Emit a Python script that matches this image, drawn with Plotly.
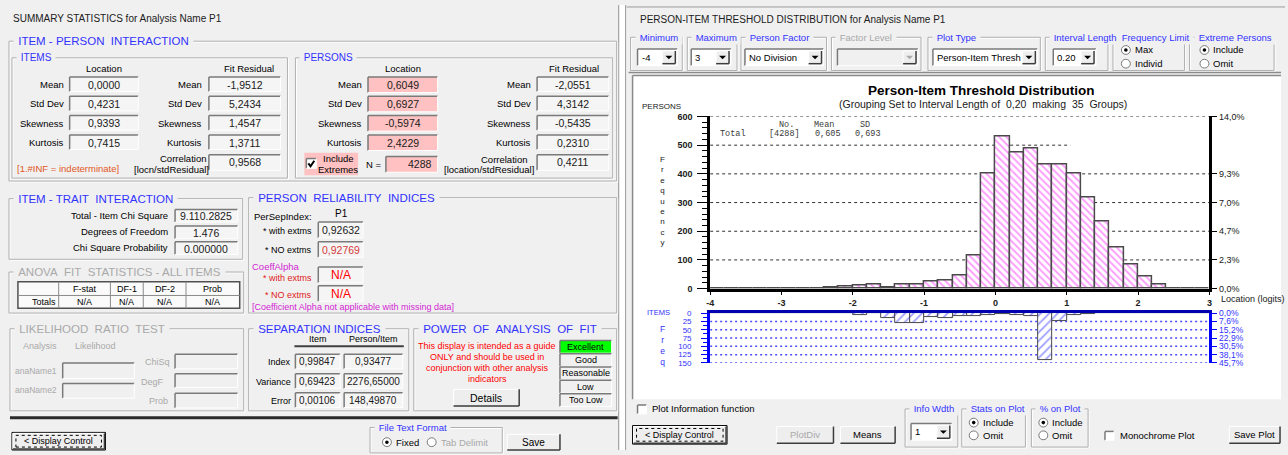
import plotly.graph_objects as go

W, H = 1288, 455
FONT = "Liberation Sans"
MONO = "Liberation Mono"
BG = "#f0f0f0"
BLUE = "#3333ff"
DIM = "#a9a9a9"
PINK = "#ffc1c1"
RED = "#ff0000"
MAG = "#d21fd2"

# ---------------- data ----------------
bin_centres = [-3.9, -3.7, -3.5, -3.3, -3.1, -2.9, -2.7, -2.5, -2.3, -2.1,
               -1.9, -1.7, -1.5, -1.3, -1.1, -0.9, -0.7, -0.5, -0.3, -0.1,
               0.1, 0.3, 0.5, 0.7, 0.9, 1.1, 1.3, 1.5, 1.7, 1.9,
               2.1, 2.3, 2.5, 2.7, 2.9]
person_freq = [0, 0, 0, 0, 0, 0, 0, 0, 3, 8,
               11, 14, 3, 15, 15, 24, 27, 45, 116, 400,
               531, 475, 489, 434, 432, 400, 316, 233, 144, 85,
               42, 15, 0, 0, 0]
item_freq = [0, 0, 0, 0, 0, 0, 0, 1, 1, 1,
             5, 0, 14, 30, 30, 12, 15, 9, 9, 6,
             3, 6, 10, 142, 23, 7, 2, 1, 0, 0,
             0, 0, 0, 0, 0]
bin_width = 0.2
x_ticks = [-4, -3, -2, -1, 0, 1, 2, 3]
person_ticks = [0, 100, 200, 300, 400, 500, 600]
person_grid_full = [100, 200, 300, 400, 600]
person_grid_part = 500
person_grid_part_end = 1.05
person_pct_ticks = [0, 100, 200, 300, 400, 600]
person_pct_labels = ["0,0%", "2,3%", "4,7%", "7,0%", "9,3%", "14,0%"]
item_ticks = [0, 25, 50, 75, 100, 125, 150]
item_pct_labels = ["0,0%", "7,6%", "15,2%", "22,9%", "30,5%", "38,1%", "45,7%"]

stat_names = ["Mean", "Std Dev", "Skewness", "Kurtosis"]
items_location = ["0,0000", "0,4231", "0,9393", "0,7415"]
items_fit = ["-1,9512", "5,2434", "1,4547", "1,3711"]
persons_location = ["0,6049", "0,6927", "-0,5974", "2,4229"]
persons_fit = ["-2,0551", "4,3142", "-0,5435", "0,2310"]
items_corr = "0,9568"
persons_corr = "0,4211"
persons_n = "4288"
trait_labels = ["Total - Item Chi Square", "Degrees of Freedom", "Chi Square Probability"]
trait_values = ["9.110.2825", "1.476", "0.000000"]
anova_headers = ["F-stat", "DF-1", "DF-2", "Prob"]
sep_rows = ["Index", "Variance", "Error"]
sep_item = ["0,99847", "0,69423", "0,00106"]
sep_person = ["0,93477", "2276,65000", "148,49870"]
power_levels = ["Excellent", "Good", "Reasonable", "Low", "Too Low"]

shapes, annos = [], []


def X(x):
    return x / W


def Y(y):
    return 1 - y / H


def rect(x0, y0, x1, y1, fill=None, line=None, lw=1, layer="above", dash=None):
    ln = dict(width=lw if line else 0, color=line or "rgba(0,0,0,0)")
    if dash:
        ln["dash"] = dash
    shapes.append(dict(type="rect", xref="paper", yref="paper", x0=X(x0), y0=Y(y1),
                       x1=X(x1), y1=Y(y0), fillcolor=fill or "rgba(0,0,0,0)",
                       line=ln, layer=layer))


def seg(x0, y0, x1, y1, color, lw=1, dash=None, layer="above"):
    ln = dict(color=color, width=lw)
    if dash:
        ln["dash"] = dash
    shapes.append(dict(type="line", xref="paper", yref="paper", x0=X(x0), y0=Y(y0),
                       x1=X(x1), y1=Y(y1), line=ln, layer=layer))


def txt(x, y, s, size=9.5, color="#000000", anchor="left", family=FONT, bg=None):
    a = dict(xref="paper", yref="paper", x=X(x), y=Y(y), text=s, showarrow=False,
             xanchor=anchor, yanchor="middle",
             font=dict(family=family, size=size, color=color), borderpad=0)
    if bg:
        a["bgcolor"] = bg
        a["borderpad"] = 1
    annos.append(a)


def sunken(x0, y0, x1, y1, fill="#f5f5f5"):
    rect(x0, y0, x1, y1, fill=fill)
    seg(x0, y0, x1, y0, "#7a7a7a", 1.5)
    seg(x0, y0, x0, y1, "#7a7a7a", 1.5)
    seg(x0, y1, x1, y1, "#ffffff", 1)
    seg(x1, y0, x1, y1, "#ffffff", 1)


def raised(x0, y0, x1, y1, fill="#eeeeee"):
    rect(x0, y0, x1, y1, fill=fill)
    seg(x0, y0, x1, y0, "#ffffff", 1)
    seg(x0, y0, x0, y1, "#ffffff", 1)
    seg(x0, y1, x1, y1, "#3c3c3c", 1.5)
    seg(x1, y0, x1, y1, "#3c3c3c", 1.5)


def frame(x0, y0, x1, y1, title, color=BLUE, size=11.5):
    rect(x0 + 1, y0 + 1, x1 + 1, y1 + 1, line="#ffffff", lw=1)
    rect(x0, y0, x1, y1, line="#b0b0b0", lw=1)
    txt(x0 + 4, y0, "\u00a0" + title + "\u00a0", size, color, bg=BG)


def button(x0, y0, x1, y1, label, color="#000000", size=10, focus=False):
    if focus:
        rect(x0 - 1, y0 - 1, x1 + 1, y1 + 1, line="#000000", lw=1)
    raised(x0, y0, x1, y1)
    if focus:
        rect(x0 + 3, y0 + 2, x1 - 3, y1 - 2, line="#000000", lw=1, dash="dot")
    txt((x0 + x1) / 2, (y0 + y1) / 2, label, size, color, anchor="center")


def radio(cx, cy, checked, label, enabled=True, size=9.5):
    r = 4.5
    shapes.append(dict(type="circle", xref="paper", yref="paper", x0=X(cx - r), x1=X(cx + r),
                       y0=Y(cy + r), y1=Y(cy - r), fillcolor="#ffffff",
                       line=dict(color="#7a7a7a", width=1)))
    if checked:
        r2 = 1.8
        shapes.append(dict(type="circle", xref="paper", yref="paper", x0=X(cx - r2), x1=X(cx + r2),
                           y0=Y(cy + r2), y1=Y(cy - r2),
                           fillcolor="#000000" if enabled else DIM, line=dict(width=0)))
    txt(cx + 8, cy, label, size, "#000000" if enabled else DIM)


def checkbox(x0, y0, checked, s=10):
    sunken(x0, y0, x0 + s, y0 + s, fill="#ffffff")
    if checked:
        p = "M {},{} L {},{} L {},{}".format(X(x0 + 2), Y(y0 + 5), X(x0 + 4.2), Y(y0 + 8),
                                             X(x0 + 8), Y(y0 + 2.2))
        shapes.append(dict(type="path", xref="paper", yref="paper", path=p,
                           line=dict(color="#000000", width=2)))


def dropdown(x0, y0, x1, y1, val, enabled=True):
    sunken(x0, y0, x1, y1, fill="#ffffff" if enabled else "#f0f0f0")
    raised(x1 - 15, y0 + 2, x1 - 2, y1 - 2)
    cx, cy = x1 - 8.5, (y0 + y1) / 2
    p = "M {},{} L {},{} L {},{} Z".format(X(cx - 3.5), Y(cy - 1.5), X(cx + 3.5), Y(cy - 1.5),
                                           X(cx), Y(cy + 2))
    shapes.append(dict(type="path", xref="paper", yref="paper", path=p,
                       fillcolor="#000000" if enabled else DIM, line=dict(width=0)))
    if val:
        txt(x0 + 3, (y0 + y1) / 2, val, 9.5)


# ---------------- window chrome ----------------
rect(619, 0, 625, 455, fill="#ffffff")
seg(618, 0, 618, 455, "#9a9a9a", 1)
seg(625, 0, 625, 455, "#9a9a9a", 1)
seg(626, 2, 1288, 2, "#9a9a9a", 1)

# ================= LEFT PANEL =================
txt(8, 14, "SUMMARY STATISTICS for Analysis Name P1", 10, "#202020")

frame(5, 37, 616, 180, "ITEM - PERSON\u00a0\u00a0INTERACTION")
frame(8, 54, 285, 177, "ITEMS", size=10)
frame(293, 54, 612, 177, "PERSONS", size=10)

row_y = [81.5, 101.2, 121, 140.8]
txt(101, 65, "Location", 9.5, anchor="center")
txt(246, 65, "Fit Residual", 9.5, anchor="center")
txt(401, 65, "Location", 9.5, anchor="center")
txt(573, 65, "Fit Residual", 9.5, anchor="center")
for i, name in enumerate(stat_names):
    y = row_y[i]
    txt(61, y, name, 9.5, anchor="right")
    sunken(66, y - 8, 135, y + 7)
    txt(100.5, y, items_location[i], 10.5, "#202020", anchor="center")
    txt(200, y, name, 9.5, anchor="right")
    sunken(206, y - 8, 278, y + 7)
    txt(242, y, items_fit[i], 10.5, "#202020", anchor="center")
    txt(361, y, name, 9.5, anchor="right")
    sunken(366, y - 8, 436, y + 8, fill=PINK)
    txt(401, y, persons_location[i], 10.5, "#202020", anchor="center")
    txt(531, y, name, 9.5, anchor="right")
    sunken(536, y - 8, 608, y + 7)
    txt(572, y, persons_fit[i], 10.5, "#202020", anchor="center")

txt(12, 167, "[1.#INF = indeterminate]", 9.5, "#e2571e")
txt(180, 157, "Correlation", 9.5, anchor="center")
txt(168, 168, "[locn/stdResidual]", 9.5, anchor="center")
sunken(206, 153, 278, 169)
txt(242, 161, items_corr, 10.5, "#202020", anchor="center")

rect(302, 151, 356, 174, fill=PINK)
checkbox(304, 157, True)
txt(336, 157, "Include", 9.5, anchor="center")
txt(336, 168, "Extremes", 9.5, anchor="center")
txt(381, 163, "N =", 9.5, anchor="right")
sunken(384, 155, 436, 171, fill=PINK)
txt(431, 163, persons_n, 10.5, "#202020", anchor="right")
txt(503, 158, "Correlation", 9.5, anchor="center")
txt(488, 168, "[location/stdResidual]", 9.5, anchor="center")
sunken(536, 153, 608, 169)
txt(572, 161, persons_corr, 10.5, "#202020", anchor="center")

# item-trait
frame(5, 198, 240, 260, "ITEM - TRAIT\u00a0\u00a0INTERACTION")
for i, (lab, val) in enumerate(zip(trait_labels, trait_values)):
    y = [215, 232, 248][i]
    txt(166, y, lab, 9.5, anchor="right")
    sunken(172, y - 6, 235, y + 7)
    txt(203.5, y + 1, val, 10.5, "#202020", anchor="center")

# anova
frame(5, 273, 241, 315, "ANOVA\u00a0\u00a0FIT\u00a0\u00a0STATISTICS - ALL ITEMS", DIM)
rect(14, 283, 237, 310, fill="#fafafa", line="#505050", lw=1.5)
seg(14, 297, 237, 297, "#8a8a8a", 1)
col_edges = [14, 55, 107, 140, 183, 237]
for cx in col_edges[1:-1]:
    seg(cx, 283, cx, 310, "#8a8a8a", 1)
for j, hname in enumerate(anova_headers):
    cx = (col_edges[j + 1] + col_edges[j + 2]) / 2
    txt(cx, 290, hname, 9, anchor="center")
    txt(cx, 303.5, "N/A", 9, anchor="center")
txt(53, 303.5, "Totals", 9, anchor="right")

# person reliability
frame(246, 197, 616, 315, "PERSON\u00a0\u00a0RELIABILITY\u00a0\u00a0INDICES")
txt(250, 216, "PerSepIndex:", 9.5)
txt(339, 213, "P1", 10, anchor="center")
txt(311, 231, "* with extms", 9, anchor="right")
sunken(316, 222, 361, 238)
txt(338.5, 230, "0,92632", 10.5, "#202020", anchor="center")
txt(311, 251, "* NO extms", 9, anchor="right")
sunken(316, 242, 361, 258)
txt(338.5, 250, "0,92769", 10.5, "#d63a3a", anchor="center")
txt(248, 267, "CoeffAlpha", 9.5, MAG)
txt(311, 279.5, "* with extms", 9, "#e02020", anchor="right")
sunken(316, 268, 361, 284)
txt(338.5, 276, "N/A", 12, RED, anchor="center")
txt(311, 297, "* NO extms", 9, "#e02020", anchor="right")
sunken(316, 287, 361, 303)
txt(338.5, 295, "N/A", 12, RED, anchor="center")
txt(248, 309, "[Coefficient Alpha not applicable with missing data]", 9, MAG)

# likelihood ratio
frame(6, 331, 241, 415, "LIKELIHOOD\u00a0\u00a0RATIO\u00a0\u00a0TEST", DIM)
txt(18, 349, "Analysis", 9, DIM)
txt(70, 349, "Likelihood", 9, DIM)
txt(10, 374, "anaName1", 8.5, DIM)
sunken(59, 366, 131, 382, fill=BG)
txt(10, 394, "anaName2", 8.5, DIM)
sunken(59, 387, 131, 402, fill=BG)
txt(168, 365, "ChiSq", 9, DIM, anchor="right")
sunken(172, 357, 235, 372, fill=BG)
txt(162, 385, "DegF", 9, DIM, anchor="right")
sunken(172, 377, 235, 391, fill=BG)
txt(166, 405, "Prob", 9, DIM, anchor="right")
sunken(172, 397, 235, 412, fill=BG)

# separation indices
frame(246, 331, 407, 415, "SEPARATION INDICES")
txt(316, 342, "Item", 9, anchor="center")
txt(372, 342, "Person/Item", 9, anchor="center")
seg(292, 349, 402, 349, "#404040", 2)
for i, r in enumerate(sep_rows):
    y = [365, 385, 404.5][i]
    txt(290, y, r, 9, anchor="right")
    sunken(293, y - 8, 338, y + 7)
    txt(315.5, y, sep_item[i], 10, "#202020", anchor="center")
    sunken(342, y - 8, 401, y + 7)
    txt(371.5, y, sep_person[i], 10, "#202020", anchor="center")

# power of analysis
frame(412, 331, 616, 415, "POWER\u00a0\u00a0OF\u00a0\u00a0ANALYSIS\u00a0\u00a0OF\u00a0\u00a0FIT")
for i, line in enumerate(["This display is intended as a guide", "ONLY and should be used in",
                          "conjunction with other analysis", "indicators"]):
    txt(486, 349 + 11 * i, line, 9, RED, anchor="center")
button(452, 393, 518, 410, "Details", size=10.5)
for i, lev in enumerate(power_levels):
    y0 = 343 + 13.6 * i
    sunken(559, y0, 611, y0 + 13, fill="#00ff00" if i == 0 else BG)
    txt(585, y0 + 6.5, lev, 9, anchor="center")

seg(6, 422, 617, 422, "#2a2a2a", 3)
button(9, 438, 101, 454, "< Display Control", size=9, focus=True)
frame(368, 432, 501, 458, "File Text Format", size=9.5)
radio(385, 447, True, "Fixed")
radio(430, 447, False, "Tab Delimit", enabled=False)
button(506, 439, 559, 455, "Save", size=10)

# ================= RIGHT PANEL =================
txt(638, 15, "PERSON-ITEM THRESHOLD DISTRIBUTION for Analysis Name P1", 10, "#202020")
frame(630, 33, 682, 67, "Minimum", size=9.5)
dropdown(637, 45, 677, 62, "-4")
frame(687, 33, 737, 67, "Maximum", size=9.5)
dropdown(691, 45, 731, 62, "3")
frame(741, 33, 827, 67, "Person Factor", size=9.5)
dropdown(745, 45, 824, 62, "No Division")
frame(832, 33, 922, 67, "Factor Level", DIM, size=9.5)
dropdown(838, 45, 919, 62, "", enabled=False)
frame(929, 33, 1042, 67, "Plot Type", size=9.5)
dropdown(934, 45, 1039, 62, "Person-Item Thresh")
frame(1047, 33, 1110, 67, "Interval Length", size=9.5)
dropdown(1055, 45, 1098, 62, "0.20")
frame(1115, 33, 1187, 67, "Frequency Limit", size=9.5)
radio(1128, 46, True, "Max")
radio(1128, 60, False, "Individ")
frame(1192, 33, 1277, 67, "Extreme Persons", size=9.5)
radio(1207, 46, True, "Include")
radio(1207, 60, False, "Omit")
seg(628, 69, 1284, 69, "#8a8a8a", 1.5)

# white plot panel
rect(632, 72, 1284, 403, fill="#ffffff", layer="below")
seg(632, 72, 1284, 72, "#8a8a8a", 1.5)
seg(632, 72, 632, 403, "#8a8a8a", 1.5)

txt(983, 87, "<b>Person-Item Threshold Distribution</b>", 13.5, "#000000", anchor="center")
txt(984, 101, "(Grouping Set to Interval Length of\u00a0\u00a00,20\u00a0\u00a0making\u00a0\u00a035\u00a0\u00a0Groups)",
    10.5, "#202020", anchor="center")
txt(640, 104, "PERSONS", 8, "#202020")
txt(662, 200, "<br>".join("Frequency"), 8, "#202020", anchor="center")
for s_, x_ in [("No.", 778), ("Mean", 813), ("SD", 860)]:
    txt(x_, 123, s_, 8.5, "#3a3a3a", family=MONO)
for s_, x_ in [("Total", 719), ("[4288]", 768), ("0,605", 814), ("0,693", 855)]:
    txt(x_, 132, s_, 8.5, "#3a3a3a", family=MONO)
txt(1223, 301, "Location (logits)", 9, "#202020")

txt(646, 314, "ITEMS", 7.5, BLUE)
txt(662, 348, "<br>".join("Freq"), 8.5, BLUE, anchor="center")

# bottom controls
checkbox(637, 409, False, s=9)
txt(651, 413, "Plot Information function", 9.5)
button(633, 431, 726, 448, "< Display Control", size=9, focus=True)
button(777, 431, 834, 448, "PlotDiv", DIM, size=9.5)
button(841, 431, 896, 448, "Means", size=9.5)
frame(906, 413, 959, 452, "Info Wdth", size=9.5)
dropdown(912, 428, 953, 445, "1")
frame(963, 413, 1027, 452, "Stats on Plot", size=9.5)
radio(975, 427, True, "Include")
radio(975, 440, False, "Omit")
frame(1033, 413, 1090, 452, "% on Plot", size=9.5)
radio(1045, 427, True, "Include")
radio(1045, 440, False, "Omit")
checkbox(1107, 436, False, s=9)
txt(1121, 440, "Monochrome Plot", 9.5)
button(1232, 431, 1283, 448, "Save Plot", size=9.5)

# ---------------- chart grid lines (axis coords) ----------------
for g in person_grid_full:
    shapes.append(dict(type="line", xref="x", yref="y", x0=-4, x1=3, y0=g, y1=g, layer="below",
                       line=dict(color="#303030", width=1, dash="3px,3px")))
shapes.append(dict(type="line", xref="x", yref="y", x0=-4, x1=person_grid_part_end,
                   y0=person_grid_part, y1=person_grid_part, layer="below",
                   line=dict(color="#303030", width=1, dash="3px,3px")))
for g in item_ticks[1:]:
    shapes.append(dict(type="line", xref="x2", yref="y2", x0=-4, x1=3, y0=g, y1=g, layer="below",
                       line=dict(color="#4a4aff", width=1.5, dash="2px,3px")))

# ---------------- traces ----------------
fig = go.Figure()
fig.add_trace(go.Bar(
    x=bin_centres, y=person_freq, width=bin_width, xaxis="x", yaxis="y",
    marker=dict(color="#ffffff", line=dict(color="#4a4a4a", width=1.5),
                pattern=dict(shape="\\", fgcolor="#ff3cff", bgcolor="#ffffff", size=5, solidity=0.4)),
    showlegend=False, hoverinfo="skip"))
fig.add_trace(go.Scatter(x=[-4], y=[0], xaxis="x", yaxis="y3", mode="markers",
                         marker=dict(opacity=0), showlegend=False, hoverinfo="skip"))
fig.add_trace(go.Bar(
    x=bin_centres, y=item_freq, width=bin_width, xaxis="x2", yaxis="y2",
    marker=dict(color="#ffffff", line=dict(color="#4a4a4a", width=1),
                pattern=dict(shape="/", fgcolor="#4040ff", bgcolor="#ffffff", size=6, solidity=0.3)),
    showlegend=False, hoverinfo="skip"))
fig.add_trace(go.Scatter(x=[-4], y=[0], xaxis="x2", yaxis="y4", mode="markers",
                         marker=dict(opacity=0), showlegend=False, hoverinfo="skip"))

xdom = [X(710), X(1212)]
main_dom = [Y(290), Y(114)]
item_dom = [Y(366), Y(315)]

fig.update_layout(
    width=W, height=H, autosize=False,
    margin=dict(l=0, r=0, t=0, b=0, pad=0),
    paper_bgcolor=BG, plot_bgcolor="rgba(0,0,0,0)",
    font=dict(family=FONT, size=10, color="#000000"),
    showlegend=False, bargap=0,
    shapes=shapes, annotations=annos,
    xaxis=dict(domain=xdom, range=[-4, 3], anchor="y", tickmode="array", tickvals=x_ticks,
               ticktext=["<b>%d</b>" % v for v in x_ticks], tickfont=dict(size=9, color="#202020"),
               ticks="outside", ticklen=4, tickcolor="#000000", showline=True, linecolor="#000000",
               linewidth=2.5, showgrid=False, zeroline=False, fixedrange=True),
    yaxis=dict(domain=main_dom, range=[0, 600], anchor="x", tickmode="array", tickvals=person_ticks,
               ticktext=["<b>%d</b>" % v for v in person_ticks], tickfont=dict(size=9, color="#202020"),
               ticks="outside", ticklen=10, tickcolor="#000000", ticklabelstandoff=3,
               minor=dict(tickmode="linear", tick0=0, dtick=20, ticks="outside", ticklen=5,
                          tickcolor="#000000", showgrid=False),
               showline=True, linecolor="#000000", linewidth=2.5, showgrid=False, zeroline=False),
    yaxis3=dict(overlaying="y", side="right", anchor="x", range=[0, 600], tickmode="array",
                tickvals=person_pct_ticks, ticktext=person_pct_labels,
                tickfont=dict(size=9, color="#202020"), ticks="outside", ticklen=5,
                tickcolor="#000000", showline=True, linecolor="#000000", linewidth=2.5,
                showgrid=False, zeroline=False),
    xaxis2=dict(domain=xdom, range=[-4, 3], anchor="y2", side="top", showticklabels=False,
                ticks="", showline=True, linecolor="#0000b0", linewidth=2.5, showgrid=False,
                zeroline=False),
    yaxis2=dict(domain=item_dom, range=[150, 0], anchor="x2", tickmode="array", tickvals=item_ticks,
                tickfont=dict(size=8, color=BLUE), ticks="outside", ticklen=6, tickcolor="#0000ff",
                ticklabelstandoff=8,
                minor=dict(tickmode="linear", tick0=0, dtick=12.5, ticks="outside", ticklen=4,
                           tickcolor="#0000ff", showgrid=False),
                showline=True, linecolor="#0000ff", linewidth=3, showgrid=False, zeroline=False),
    yaxis4=dict(overlaying="y2", side="right", anchor="x2", range=[150, 0], tickmode="array",
                tickvals=item_ticks, ticktext=item_pct_labels, tickfont=dict(size=8.5, color=BLUE),
                ticks="outside", ticklen=5, tickcolor="#0000ff", showline=True,
                linecolor="#0000ff", linewidth=3, showgrid=False, zeroline=False),
)

fig.write_html("out.html")
